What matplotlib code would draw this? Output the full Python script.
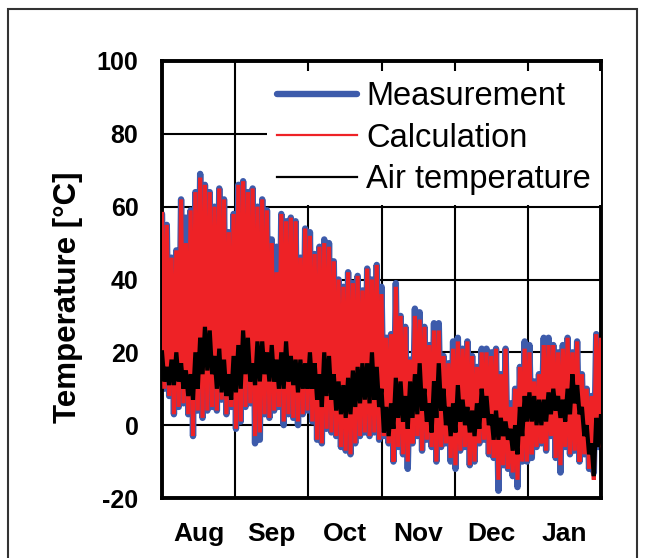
import numpy as np
import matplotlib.pyplot as plt
from matplotlib.patches import Rectangle

plt.rcParams['font.family'] = ['Liberation Sans', 'DejaVu Sans']

# day index (every 2 days, Aug 1 .. end of Jan)
days = np.arange(0, 185, 2)
months = ['Aug', 'Sep', 'Oct', 'Nov', 'Dec', 'Jan']

# calculated surface temperature, upper / lower envelope
calc_hi = [58, 55, 46, 48, 62, 50, 59, 64, 68, 66, 64, 60, 65, 62, 53, 58,
           66, 67, 64, 65, 60, 62, 59, 50, 42, 58, 56, 57, 56, 46, 54,
           52, 47, 49, 50, 49, 45, 40, 38, 42, 39, 41, 37, 43, 40, 44,
           36, 24, 25, 38, 30, 27, 18, 30, 29, 27, 22, 26, 26, 19, 17,
           21, 23, 21, 23, 19, 16, 20, 20, 19, 21, 14, 21, 5, 10, 16, 21,
           20, 12, 14, 22, 22, 22, 20, 21, 24, 20, 23, 14, 10, 8, 25, 24]
calc_lo = [10, 8, 3, 5, 6, 3, -3, 4, 2, 4, 5, 4, 7, 3, 5, -1,
           1, 5, 6, -3, -2, 3, 2, 4, 5, 1, 3, 2, 1, 3, 4,
           1, -4, -5, -1, -2, -3, -6, -7, -8, -5, -3, -2, -3, -2, -4,
           -3, -5, -10, -6, -8, -10, -5, -3, -7, -4, -6, -10, -6, -5, -9,
           -11, -7, -6, -11, -10, -5, -4, -8, -9, -15, -11, -12, -13, -15, -10, -10,
           -8, -6, -5, -7, -3, -9, -11, -6, -8, -7, -10, -8, -12, -15, -6, -12]

# measured surface temperature
meas_hi = [58, 55, 46, 48, 62, 57, 59, 64, 69, 66, 64, 60, 65, 62, 53, 58,
           66, 67, 64, 65, 60, 62, 59, 51, 49, 58, 56, 57, 56, 46, 54,
           53, 47, 49, 51, 50, 45, 40, 38, 42, 39, 41, 37, 43, 40, 44,
           38, 24, 25, 39, 30, 27, 18, 32, 31, 27, 22, 28, 28, 19, 17,
           23, 24, 21, 23, 19, 16, 21, 21, 20, 21, 14, 21, 6, 10, 16, 23,
           22, 12, 14, 24, 24, 22, 20, 22, 24, 20, 23, 14, 10, 8, 25, 24]
meas_lo = [10, 8, 3, 5, 6, 3, -3, 4, 2, 4, 5, 4, 7, 3, 5, -1,
           1, 5, 6, -5, -4, 3, 2, 4, 5, 0, 3, 2, 0, 3, 4,
           1, -4, -5, -1, -2, -3, -6, -7, -8, -5, -3, -2, -3, -2, -4,
           -3, -5, -10, -6, -8, -12, -5, -3, -7, -4, -6, -10, -6, -5, -10,
           -12, -7, -6, -11, -10, -5, -4, -8, -9, -18, -11, -12, -14, -17, -10, -10,
           -9, -6, -5, -7, -3, -9, -13, -6, -8, -7, -10, -8, -12, -13, -6, -13]

# air temperature
air_hi = [20, 16, 18, 20, 17, 15, 14, 20, 24, 27, 26, 19, 21, 18, 14, 19,
          22, 26, 24, 17, 23, 23, 20, 22, 18, 20, 23, 19, 18, 18, 17,
          20, 17, 14, 20, 19, 14, 12, 11, 13, 15, 16, 17, 17, 20, 16,
          10, 5, 6, 13, 12, 8, 12, 14, 17, 10, 6, 12, 17, 10, 5,
          6, 11, 7, 5, 4, 6, 10, 8, 3, 4, 2, 1, -1, 0, 5, 8,
          9, 8, 7, 7, 9, 10, 8, 7, 10, 14, 11, 5, 0, -5, 2, 3]
air_lo = [12, 11, 11, 12, 10, 8, 7, 10, 14, 15, 14, 10, 9, 8, 7, 9,
          10, 14, 12, 11, 12, 14, 12, 12, 10, 10, 12, 11, 9, 10, 10,
          10, 7, 5, 8, 7, 4, 3, 2, 3, 5, 6, 7, 6, 7, 5,
          -2, -3, -1, 2, 1, -1, 2, 3, 4, 1, -2, 2, 4, 0, -3,
          -2, 1, 0, -2, -3, -1, 2, 0, -4, -4, -3, -4, -7, -8, -3, 1,
          1, 0, 0, 1, 3, 4, 2, 1, 3, 6, 3, -3, -8, -14, -6, -2]


def zigzag(hi, lo):
    # daily max then min, half a sample apart
    x = np.column_stack([days, days + 1]).ravel()
    y = np.column_stack([hi, lo]).ravel()
    return x, y


fig = plt.figure(figsize=(6.45, 5.58), dpi=100)
ax = fig.add_axes([162 / 645, 1 - 498 / 558, 439 / 645, 437 / 558])

x, y = zigzag(meas_hi, meas_lo)
ax.plot(x, y, color='#3d5bab', lw=4.6, solid_capstyle='round',
        solid_joinstyle='round', label='Measurement', zorder=2)
x, y = zigzag(calc_hi, calc_lo)
ax.plot(x, y, color='#ee2226', lw=3.0, solid_joinstyle='miter',
        label='Calculation', zorder=3)
x, y = zigzag(air_hi, air_lo)
ax.plot(x, y, color='black', lw=3.0, solid_joinstyle='miter',
        label='Air temperature', zorder=4)

ax.set_xlim(0, 184)
ax.set_ylim(-20, 100)
edges = np.arange(7) * 184 / 6
ax.set_xticks(edges[1:-1])
ax.set_xticklabels([])
ax.set_xticks((edges[:-1] + edges[1:]) / 2, minor=True)
ax.set_xticklabels(months, minor=True, fontsize=19, fontweight='bold')
yt = np.arange(-20, 101, 20)
ax.set_yticks(yt)
ax.set_yticklabels([str(v) for v in yt], fontsize=18, fontweight='bold')
ax.tick_params(which='both', length=0)
ax.tick_params(axis='y', pad=17)
ax.tick_params(axis='x', which='minor', pad=17)
ax.grid(True, which='major', color='black', lw=1.5)
ax.set_axisbelow(True)
for s in ax.spines.values():
    s.set_linewidth(2.8)

leg = ax.legend(loc='upper right', bbox_to_anchor=(1.0, 0.976), fontsize=23.5,
                handlelength=2.45, handletextpad=0.3, labelspacing=0.32,
                borderpad=0.3, borderaxespad=0, frameon=True, fancybox=False,
                edgecolor='none', framealpha=1)
leg.legend_handles[1].set_linewidth(1.6)
leg.legend_handles[2].set_linewidth(1.6)

fig.text(68 / 645, 1 - 297 / 558, 'Temperature [°C]', rotation=90, ha='center',
         va='center', fontsize=22.5, fontweight='bold')

fig.add_artist(Rectangle((8 / 645, -0.05), 629 / 645, 1.05 - 9 / 558,
                         transform=fig.transFigure, fill=False,
                         ec='#333333', lw=1.5))

fig.savefig('out.png', dpi=100)
